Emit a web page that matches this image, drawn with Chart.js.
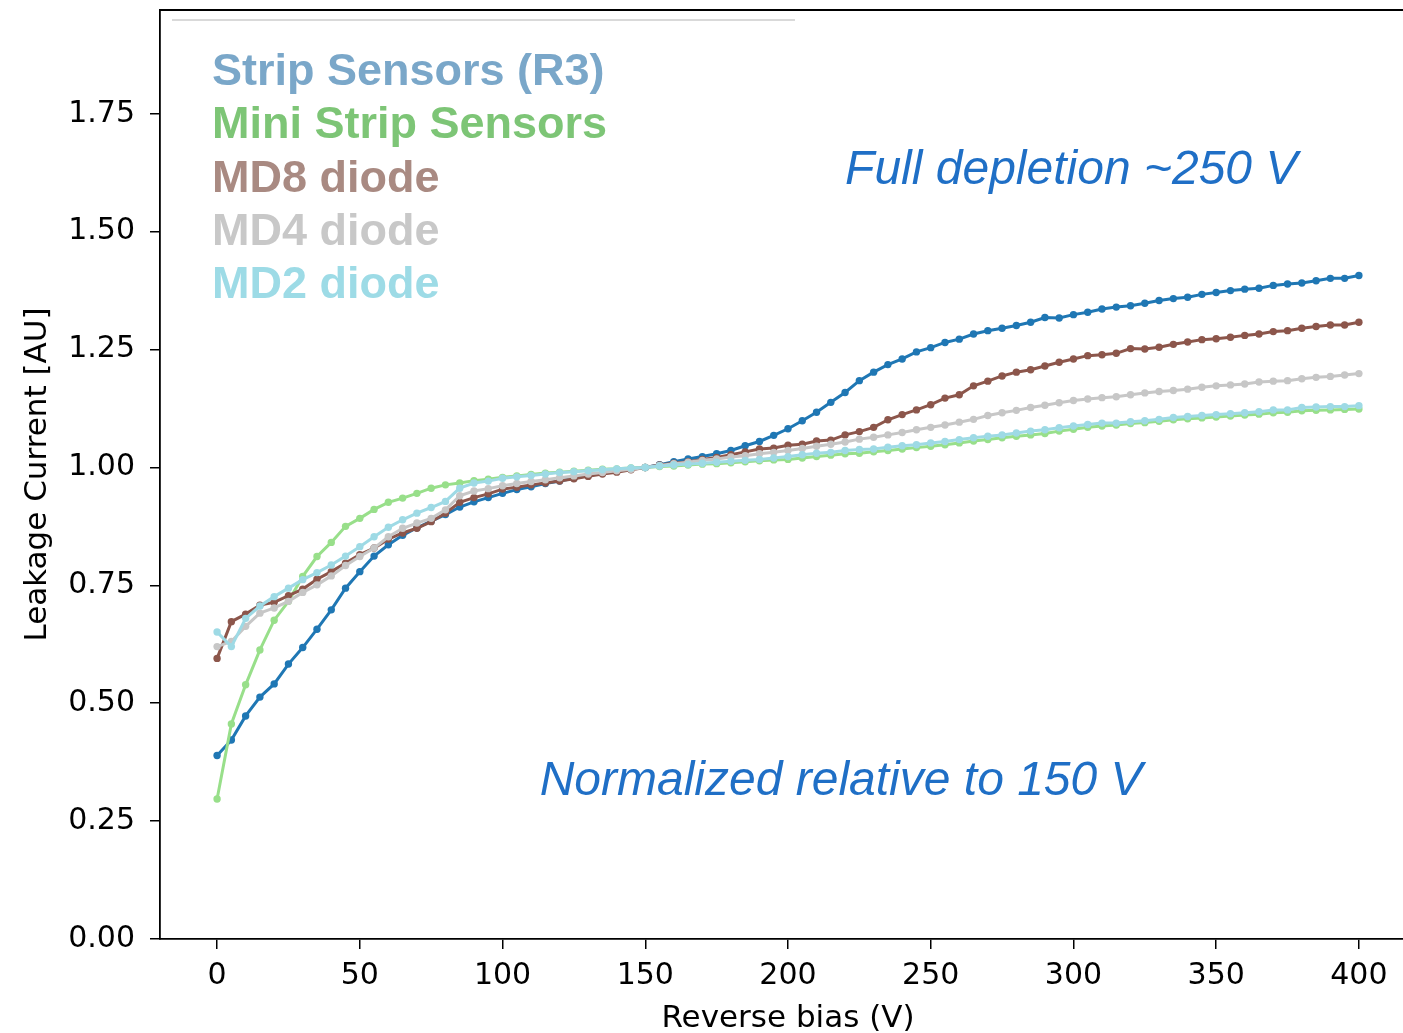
<!DOCTYPE html>
<html>
<head>
<meta charset="utf-8">
<script src="https://cdn.jsdelivr.net/npm/chart.js@4/dist/chart.umd.min.js"></script>
<style>
  html, body { margin: 0; padding: 0; background: #fff; overflow: hidden; }
  #wrap { width: 1430px; height: 1033px; position: relative; }
</style>
</head>
<body>
<div id="wrap"><canvas id="leakageChart"></canvas></div>
<script>
// reverse bias points (V)
const biasVoltages = [
  0, 5, 10, 15, 20, 25, 30, 35, 40, 45, 50, 55, 60, 65, 70, 75, 80, 85, 90, 95,
  100, 105, 110, 115, 120, 125, 130, 135, 140, 145, 150, 155, 160, 165, 170, 175, 180, 185, 190, 195,
  200, 205, 210, 215, 220, 225, 230, 235, 240, 245, 250, 255, 260, 265, 270, 275, 280, 285, 290, 295,
  300, 305, 310, 315, 320, 325, 330, 335, 340, 345, 350, 355, 360, 365, 370, 375, 380, 385, 390, 395, 400
];

const seriesNames = ['Strip Sensors (R3)', 'Mini Strip Sensors', 'MD8 diode', 'MD4 diode', 'MD2 diode'];

// leakage current normalised to 150 V
const stripR3 = [
  0.389, 0.422, 0.473, 0.513, 0.541, 0.583, 0.618, 0.657, 0.698, 0.744, 0.779, 0.812, 0.836, 0.856, 0.872, 0.886, 0.900, 0.916, 0.927, 0.936,
  0.945, 0.953, 0.959, 0.966, 0.971, 0.977, 0.983, 0.988, 0.993, 0.997, 1.000, 1.006, 1.012, 1.018, 1.023, 1.029, 1.036, 1.046, 1.055, 1.068,
  1.082, 1.099, 1.117, 1.138, 1.159, 1.184, 1.202, 1.218, 1.230, 1.245, 1.254, 1.265, 1.272, 1.283, 1.290, 1.295, 1.301, 1.308, 1.318, 1.317,
  1.324, 1.329, 1.336, 1.340, 1.343, 1.348, 1.354, 1.358, 1.361, 1.367, 1.371, 1.375, 1.378, 1.380, 1.386, 1.389, 1.391, 1.396, 1.401, 1.401, 1.407
];
const miniStrip = [
  0.297, 0.456, 0.539, 0.613, 0.676, 0.716, 0.769, 0.811, 0.841, 0.875, 0.892, 0.911, 0.926, 0.935, 0.945, 0.956, 0.963, 0.967, 0.972, 0.975,
  0.979, 0.982, 0.985, 0.988, 0.990, 0.992, 0.994, 0.996, 0.997, 0.999, 1.000, 1.002, 1.003, 1.005, 1.007, 1.008, 1.010, 1.012, 1.014, 1.016,
  1.017, 1.020, 1.023, 1.026, 1.029, 1.030, 1.033, 1.036, 1.039, 1.042, 1.045, 1.048, 1.052, 1.056, 1.059, 1.063, 1.066, 1.069, 1.072, 1.077,
  1.081, 1.085, 1.088, 1.090, 1.093, 1.095, 1.098, 1.101, 1.103, 1.105, 1.107, 1.109, 1.111, 1.113, 1.116, 1.117, 1.120, 1.121, 1.122, 1.123, 1.124
];
const md8 = [
  0.595, 0.673, 0.689, 0.708, 0.714, 0.728, 0.742, 0.763, 0.779, 0.797, 0.815, 0.829, 0.848, 0.861, 0.871, 0.885, 0.903, 0.926, 0.936, 0.944,
  0.954, 0.958, 0.963, 0.967, 0.971, 0.976, 0.981, 0.986, 0.990, 0.995, 1.000, 1.005, 1.009, 1.012, 1.017, 1.021, 1.027, 1.033, 1.039, 1.041,
  1.047, 1.049, 1.056, 1.058, 1.069, 1.076, 1.085, 1.101, 1.112, 1.122, 1.133, 1.147, 1.154, 1.173, 1.183, 1.194, 1.202, 1.207, 1.215, 1.223,
  1.230, 1.237, 1.239, 1.242, 1.252, 1.251, 1.255, 1.261, 1.266, 1.271, 1.273, 1.276, 1.280, 1.283, 1.288, 1.290, 1.295, 1.299, 1.302, 1.302, 1.308
];
const md4 = [
  0.620, 0.631, 0.663, 0.691, 0.702, 0.716, 0.735, 0.751, 0.770, 0.792, 0.811, 0.829, 0.853, 0.871, 0.882, 0.892, 0.910, 0.940, 0.950, 0.955,
  0.961, 0.966, 0.970, 0.974, 0.978, 0.982, 0.986, 0.989, 0.993, 0.996, 1.000, 1.004, 1.008, 1.011, 1.015, 1.018, 1.022, 1.025, 1.029, 1.032,
  1.036, 1.040, 1.045, 1.049, 1.054, 1.060, 1.064, 1.069, 1.074, 1.080, 1.085, 1.090, 1.096, 1.102, 1.110, 1.116, 1.121, 1.127, 1.132, 1.137,
  1.142, 1.145, 1.148, 1.150, 1.154, 1.158, 1.161, 1.163, 1.166, 1.170, 1.173, 1.175, 1.177, 1.181, 1.183, 1.184, 1.188, 1.191, 1.193, 1.196, 1.199
];
const md2 = [
  0.651, 0.620, 0.680, 0.706, 0.726, 0.744, 0.762, 0.777, 0.793, 0.812, 0.832, 0.853, 0.873, 0.889, 0.903, 0.915, 0.928, 0.956, 0.967, 0.971,
  0.977, 0.980, 0.983, 0.986, 0.989, 0.991, 0.993, 0.995, 0.997, 0.999, 1.000, 1.003, 1.005, 1.007, 1.009, 1.011, 1.013, 1.015, 1.017, 1.020,
  1.023, 1.027, 1.030, 1.032, 1.036, 1.038, 1.039, 1.043, 1.046, 1.048, 1.052, 1.055, 1.059, 1.063, 1.066, 1.069, 1.073, 1.077, 1.080, 1.084,
  1.088, 1.091, 1.094, 1.094, 1.097, 1.099, 1.102, 1.106, 1.108, 1.110, 1.112, 1.114, 1.116, 1.118, 1.122, 1.122, 1.127, 1.128, 1.129, 1.129, 1.131
];

const xTicks = [0, 50, 100, 150, 200, 250, 300, 350, 400];
const yTicks = [0, 0.25, 0.5, 0.75, 1.0, 1.25, 1.5, 1.75];

const lineColors = ['#1f77b4', '#98df8a', '#8c564b', '#c7c7c7', '#9edae5'];
const labelColors = ['#7aa7c9', '#7dc576', '#a98a82', '#c8c8c8', '#9ddbe6'];

// text notes, placed in data units
const notes = [
  { text: 'Full depletion ~250 V', x: 220, y: 1.60 },
  { text: 'Normalized relative to 150 V', x: 113, y: 0.305 }
];

const allSeries = [stripR3, miniStrip, md8, md4, md2];

const datasets = allSeries.map((vals, i) => ({
  label: seriesNames[i],
  data: vals.map((v, j) => ({ x: biasVoltages[j], y: v })),
  borderColor: lineColors[i],
  backgroundColor: lineColors[i],
  pointBackgroundColor: lineColors[i],
  borderWidth: 3,
  pointRadius: 3.7,
  pointBorderWidth: 0,
  pointHoverRadius: 0,
  tension: 0,
  order: allSeries.length - 1 - i   // later series drawn on top
}));

// frame, coloured legend text and the two notes
const decorPlugin = {
  id: 'decor',
  afterDraw(chart) {
    const { ctx, chartArea: a, scales } = chart;
    ctx.save();
    // top / right frame
    ctx.strokeStyle = '#000';
    ctx.lineWidth = 1.8;
    ctx.beginPath();
    ctx.moveTo(a.left, a.top);
    ctx.lineTo(a.right, a.top);
    ctx.lineTo(a.right, a.bottom);
    ctx.stroke();
    // faint line above the legend
    ctx.strokeStyle = '#d9d9d9';
    ctx.lineWidth = 2;
    ctx.beginPath();
    ctx.moveTo(a.left + 12, a.top + 10);
    ctx.lineTo(a.left + 635, a.top + 10);
    ctx.stroke();
    // legend as coloured words
    ctx.font = 'bold 45px "Liberation Sans", Arial, sans-serif';
    ctx.textAlign = 'left';
    ctx.textBaseline = 'alphabetic';
    chart.data.datasets.forEach((ds, i) => {
      ctx.fillStyle = labelColors[i];
      ctx.fillText(ds.label, a.left + 52, a.top + 75 + i * 53.3);
    });
    // notes
    ctx.font = 'italic 48px "Liberation Sans", Arial, sans-serif';
    ctx.fillStyle = '#1f6fc6';
    notes.forEach(n => {
      ctx.fillText(n.text, scales.x.getPixelForValue(n.x), scales.y.getPixelForValue(n.y));
    });
    ctx.restore();
  }
};

const tickFont = { family: 'DejaVu Sans', size: 30 };

new Chart(document.getElementById('leakageChart'), {
  type: 'line',
  data: { datasets },
  plugins: [decorPlugin],
  options: {
    responsive: true,
    maintainAspectRatio: false,
    animation: false,
    layout: { padding: { top: 10, right: 14, left: 0, bottom: 0 } },
    plugins: {
      legend: { display: false },
      tooltip: { enabled: false }
    },
    scales: {
      x: {
        type: 'linear',
        min: -20,
        max: 420,
        afterBuildTicks: s => { s.ticks = xTicks.map(v => ({ value: v })); },
        afterFit: s => { s.height = 94; s.paddingLeft = 0; s.paddingRight = 0; },
        grid: { drawOnChartArea: false, drawTicks: true, tickLength: 10, color: '#000', lineWidth: 1.5 },
        border: { display: true, color: '#000', width: 1.8 },
        ticks: { color: '#000', font: tickFont, padding: 9, maxRotation: 0, callback: v => String(v) },
        title: {
          display: true,
          text: 'Reverse bias (V)',
          color: '#000',
          font: { family: 'DejaVu Sans', size: 31, lineHeight: 1 },
          padding: { top: 0, bottom: -1 }
        }
      },
      y: {
        min: 0,
        max: 1.97,
        afterBuildTicks: s => { s.ticks = yTicks.map(v => ({ value: v })); },
        afterFit: s => { s.width = 160; s.paddingTop = 0; s.paddingBottom = 0; },
        grid: { drawOnChartArea: false, drawTicks: true, tickLength: 10, color: '#000', lineWidth: 1.5 },
        border: { display: true, color: '#000', width: 1.8 },
        ticks: { color: '#000', font: tickFont, padding: 15, callback: v => Number(v).toFixed(2) },
        title: {
          display: true,
          text: 'Leakage Current [AU]',
          color: '#000',
          font: { family: 'DejaVu Sans', size: 31 },
          padding: { top: 19, bottom: 0 }
        }
      }
    }
  }
});
</script>
</body>
</html>
